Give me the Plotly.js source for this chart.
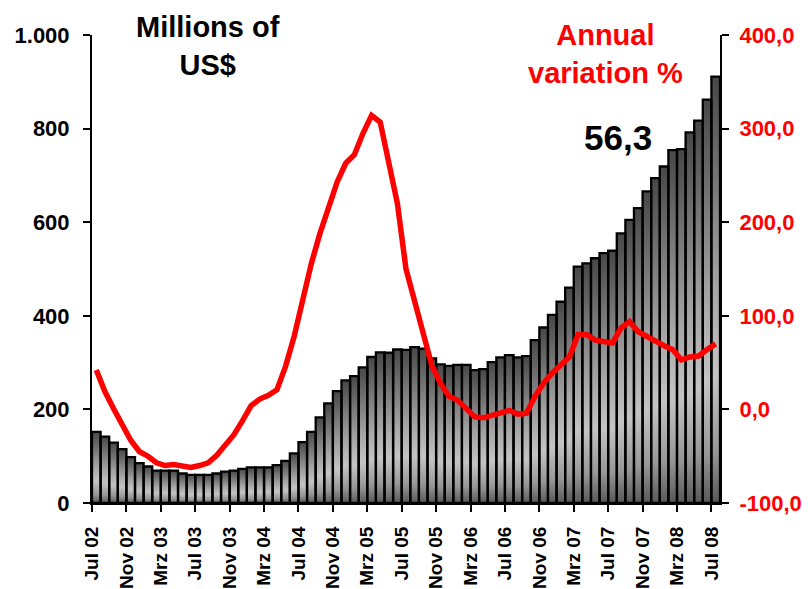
<!DOCTYPE html>
<html>
<head>
<meta charset="utf-8">
<script src="https://cdn.plot.ly/plotly-3.0.1.min.js"></script>
<style>html,body{margin:0;padding:0;background:#fff;}#chart{width:808px;height:589px;}</style>
</head>
<body>
<div id="chart"></div>
<script>
// Monthly values, Jul 02 .. Jul 08 (millions of US$)
const barValues = [152,142,129,115,98,85,78,69,69,69,63,60,60,60,63,67,69,73,76,76,76,81,90,106,130,152,183,213,239,262,271,290,312,322,321,328,327,333,330,309,296,293,295,295,284,286,301,311,316,311,314,348,375,402,430,460,505,512,523,534,539,576,605,630,666,694,719,754,756,792,817,862,911];
// Annual variation %
const annualVariation = [42,19,1,-17,-33,-45,-50,-57,-60,-59,-61,-62,-60,-57,-49,-38,-27,-12,4,11,15,21,46,78,117,156,188,217,243,263,272,295,314,307,266,220,150,114,81,47,28,14,10,1,-8,-9,-6,-4,-1,-5,-4,14,28,39,47,56,80,80,74,73,71,87,94,83,78,72,68,64,53,56,57,64,70];
// x tick labels (every 4 months)
const xTickLabels = ['Jul 02','Nov 02','Mrz 03','Jul 03','Nov 03','Mrz 04','Jul 04','Nov 04','Mrz 05','Jul 05','Nov 05','Mrz 06','Jul 06','Nov 06','Mrz 07','Jul 07','Nov 07','Mrz 08','Jul 08'];
const leftTickVals = [0,200,400,600,800,1000];
const leftTickLabels = ['0','200','400','600','800','1.000'];
const rightTickVals = [-100,0,100,200,300,400];
const rightTickLabels = ['-100,0','0,0','100,0','200,0','300,0','400,0'];
const lastLabel = '56,3';

const FONT = 'Liberation Sans, Arial, sans-serif';
const barScale = [[0,'#585858'],[0.12,'#969696'],[0.3,'#c4c4c4'],[0.5,'#a6a6a6'],[0.78,'#717171'],[1,'#474747']];

const n = barValues.length;
const centers = barValues.map((v,i)=>i+0.5);
const tickPos = xTickLabels.map((t,i)=>i*4);

const traces = [];
barValues.forEach((v,i)=>{
  traces.push({
    type:'scatter', mode:'lines',
    x:[i,i,i+1,i+1,i], y:[0,v,v,0,0],
    fill:'toself', line:{width:0, color:'rgba(0,0,0,0)'},
    fillgradient:{type:'vertical', colorscale:barScale},
    hoverinfo:'skip', showlegend:false, xaxis:'x', yaxis:'y'
  });
});
traces.push({
  type:'bar', x:centers, y:barValues, width:1,
  marker:{color:'rgba(0,0,0,0)', line:{color:'#000', width:2.3}},
  xaxis:'x', yaxis:'y2', showlegend:false, name:'Millions of US$'
});
traces.push({
  type:'scatter', mode:'lines', x:centers, y:annualVariation,
  line:{color:'#ff0000', width:5.5},
  xaxis:'x', yaxis:'y3', showlegend:false, name:'Annual variation %'
});

const layout = {
  width:808, height:589,
  margin:{l:92, r:88, t:35, b:86, pad:0},
  paper_bgcolor:'#ffffff', plot_bgcolor:'rgba(0,0,0,0)',
  showlegend:false, bargap:0,
  font:{family:FONT, color:'#000'},
  xaxis:{
    range:[0,n], tickmode:'array', tickvals:tickPos, ticktext:xTickLabels,
    tickangle:-90, ticks:'outside', ticklen:7, tickwidth:2, tickcolor:'#000',
    ticklabelstandoff:7,
    showline:true, linewidth:2, linecolor:'#000', showgrid:false, zeroline:false,
    tickfont:{family:FONT, size:19, weight:'bold', color:'#000'}
  },
  yaxis:{
    range:[0,1000], tickmode:'array', tickvals:leftTickVals, ticktext:leftTickLabels,
    ticks:'outside', ticklen:7, tickwidth:2, tickcolor:'#000',
    ticklabelstandoff:9,
    showline:true, linewidth:2, linecolor:'#000', showgrid:false, zeroline:false,
    tickfont:{family:FONT, size:22, weight:'bold', color:'#000'}
  },
  yaxis2:{overlaying:'y', range:[0,1000], visible:false},
  yaxis3:{
    overlaying:'y', side:'right', range:[-100,400], tickmode:'array',
    tickvals:rightTickVals, ticktext:rightTickLabels,
    ticks:'outside', ticklen:7, tickwidth:2, tickcolor:'#000',
    ticklabelstandoff:6,
    showline:true, linewidth:2, linecolor:'#000', showgrid:false, zeroline:false,
    tickfont:{family:FONT, size:22, weight:'bold', color:'#ff0000'}
  },
  annotations:[
    {xref:'paper', yref:'paper', x:0.185, y:1.055, xanchor:'center', yanchor:'top',
     text:'Millions of<br>US$', showarrow:false,
     font:{family:FONT, size:29, weight:'bold', color:'#000'}},
    {xref:'paper', yref:'paper', x:0.817, y:1.038, xanchor:'center', yanchor:'top',
     text:'Annual<br>variation %', showarrow:false,
     font:{family:FONT, size:29, weight:'bold', color:'#ff0000'}},
    {xref:'paper', yref:'paper', x:0.838, y:0.782, xanchor:'center', yanchor:'middle',
     text:lastLabel, showarrow:false,
     font:{family:FONT, size:35, weight:'bold', color:'#000'}}
  ]
};

Plotly.newPlot('chart', traces, layout, {displayModeBar:false, staticPlot:true});
</script>
</body>
</html>
